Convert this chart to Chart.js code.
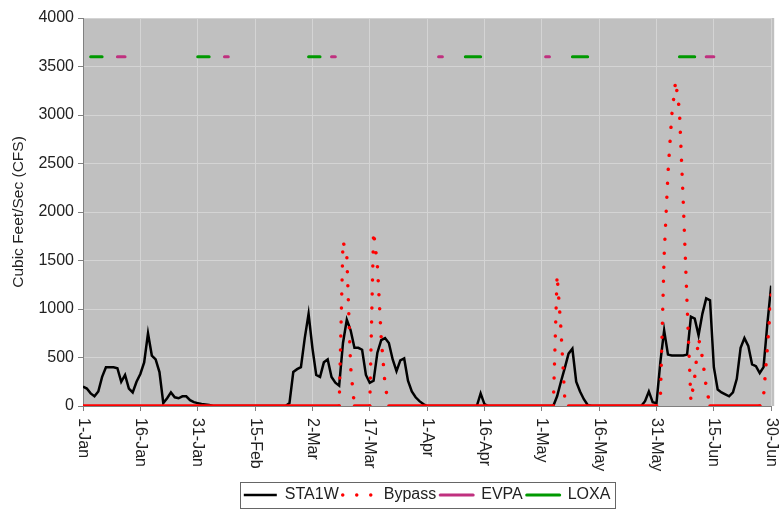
<!DOCTYPE html>
<html>
<head>
<meta charset="utf-8">
<title>STA1W / Bypass flows</title>
<script src="https://cdn.jsdelivr.net/npm/chart.js@4.4.1/dist/chart.umd.min.js"></script>
<style>
  body { margin: 0; background: #fff; }
  canvas { display: block; }
</style>
</head>
<body>
<canvas id="flowChart" width="779" height="510"></canvas>
<script>
// x tick labels, one every 15 days (day 0 = 1-Jan, day 180 = 30-Jun)
const tickLabels = ['1-Jan', '16-Jan', '31-Jan', '15-Feb', '2-Mar', '17-Mar', '1-Apr',
  '16-Apr', '1-May', '16-May', '31-May', '15-Jun', '30-Jun'];

// daily flow (cfs), one row per 15 days
const sta1w = [
  200, 180, 130, 100, 150, 300, 400, 400, 400, 390, 250, 320, 180, 140, 250,
  330, 450, 750, 520, 480, 350, 30, 80, 140, 90, 80, 100, 100, 60, 40,
  30, 20, 15, 10, 0, 0, 0, 0, 0, 0, 0, 0, 0, 0, 0,
  0, 0, 0, 0, 0, 0, 0, 0, 0, 30, 350, 380, 400, 700, 950,
  600, 320, 300, 450, 480, 300, 240, 210, 650, 890, 780, 600, 600, 580, 320,
  240, 260, 550, 680, 700, 650, 480, 360, 470, 490, 260, 150, 90, 50, 20,
  0, 0, 0, 0, 0, 0, 0, 0, 0, 0, 0, 0, 0, 0, 130,
  20, 0, 0, 0, 0, 0, 0, 0, 0, 0, 0, 0, 0, 0, 0,
  0, 0, 0, 0, 100, 250, 390, 540, 590, 250, 150, 70, 10, 0, 0,
  0, 0, 0, 0, 0, 0, 0, 0, 0, 0, 0, 0, 50, 150, 40,
  30, 450, 780, 530, 520, 520, 520, 520, 530, 920, 900, 730, 950, 1110, 1090,
  400, 170, 140, 120, 100, 140, 280, 600, 700, 620, 430, 410, 340, 400, 850,
  1240
];

const bypass = [
  0, 0, 0, 0, 0, 0, 0, 0, 0, 0, 0, 0, 0, 0, 0,
  0, 0, 0, 0, 0, 0, 0, 0, 0, 0, 0, 0, 0, 0, 0,
  0, 0, 0, 0, 0, 0, 0, 0, 0, 0, 0, 0, 0, 0, 0,
  0, 0, 0, 0, 0, 0, 0, 0, 0, 0, 0, 0, 0, 0, 0,
  0, 0, 0, 0, 0, 0, 0, 0, 1700, 1550, 400, 0, 0, 0, 0,
  0, 1800, 1450, 700, 220, 0, 0, 0, 0, 0, 0, 0, 0, 0, 0,
  0, 0, 0, 0, 0, 0, 0, 0, 0, 0, 0, 0, 0, 0, 0,
  0, 0, 0, 0, 0, 0, 0, 0, 0, 0, 0, 0, 0, 0, 0,
  0, 0, 0, 0, 1350, 800, 80, 0, 0, 0, 0, 0, 0, 0, 0,
  0, 0, 0, 0, 0, 0, 0, 0, 0, 0, 0, 0, 0, 0, 0,
  0, 50, 1550, 2400, 3000, 3350, 3050, 2100, 1050, 50, 300, 700, 500, 200, 0,
  0, 0, 0, 0, 0, 0, 0, 0, 0, 0, 0, 0, 0, 100, 600,
  1150
];

// days (first, last) when the EVPA / LOXA markers are on
const evpaDays = [[9, 11], [37, 38], [65, 66], [93, 94], [121, 122], [163, 165]];
const loxaDays = [[2, 5], [30, 33], [59, 62], [100, 104], [128, 132], [156, 160]];
const markerLevel = 3600;

const FONT = '"Liberation Sans", Arial, sans-serif';
Chart.defaults.font.family = FONT;

const toPoints = arr => arr.map((v, i) => ({ x: i, y: v }));

function markerPoints(ranges) {
  const pts = [];
  ranges.forEach(([a, b]) => {
    for (let d = a; d <= b; d++) pts.push({ x: d, y: markerLevel });
    pts.push({ x: b + 0.5, y: null });
  });
  return pts;
}

// grey plot area
const plotBackground = {
  id: 'plotBackground',
  beforeDraw(chart) {
    const { ctx, chartArea: a } = chart;
    ctx.save();
    ctx.fillStyle = '#fff';
    ctx.fillRect(0, 0, chart.width, chart.height);
    ctx.fillStyle = '#c0c0c0';
    ctx.fillRect(a.left, a.top, a.right - a.left + 3, a.bottom - a.top);
    ctx.restore();
  }
};

// x labels read top to bottom, like the original
const xTickText = {
  id: 'xTickText',
  afterDraw(chart) {
    const { ctx } = chart;
    const x = chart.scales.x;
    ctx.save();
    ctx.font = '16px ' + FONT;
    ctx.fillStyle = '#222';
    ctx.textAlign = 'left';
    ctx.textBaseline = 'middle';
    x.ticks.forEach(t => {
      const label = tickLabels[Math.round(t.value / 15)];
      if (!label) return;
      ctx.save();
      ctx.translate(x.getPixelForValue(t.value), x.top + 12);
      ctx.rotate(Math.PI / 2);
      ctx.fillText(label, 0, 0);
      ctx.restore();
    });
    ctx.restore();
  }
};

// thin frame round the legend
const legendFrame = {
  id: 'legendFrame',
  afterDraw(chart) {
    const boxes = chart.legend && chart.legend.legendHitBoxes;
    if (!boxes || !boxes.length) return;
    const l = Math.min(...boxes.map(b => b.left)) - 4;
    const r = Math.max(...boxes.map(b => b.left + b.width)) + 4;
    const t = boxes[0].top - 5;
    const h = boxes[0].height + 10;
    const ctx = chart.ctx;
    ctx.save();
    ctx.strokeStyle = '#666';
    ctx.lineWidth = 1;
    ctx.strokeRect(Math.round(l) + 0.5, Math.round(t) + 0.5, Math.round(r - l), Math.round(h));
    ctx.restore();
  }
};

// legend samples follow the dataset line style (dash, width, cap)
function legendLabels(chart) {
  const items = Chart.defaults.plugins.legend.labels.generateLabels(chart);
  items.forEach(item => {
    const ds = chart.data.datasets[item.datasetIndex];
    item.lineDash = ds.borderDash || [];
    item.lineCap = ds.borderCapStyle || 'butt';
    item.lineWidth = ds.borderWidth;
    item.strokeStyle = ds.borderColor;
  });
  return items;
}

new Chart(document.getElementById('flowChart'), {
  type: 'line',
  data: {
    datasets: [
      {
        label: 'STA1W',
        data: toPoints(sta1w),
        borderColor: '#000',
        borderWidth: 2.5,
        pointRadius: 0,
        tension: 0,
        order: 2
      },
      {
        label: 'Bypass',
        data: toPoints(bypass),
        borderColor: '#ff0000',
        borderWidth: 3.5,
        borderDash: [0.01, 14],
        borderCapStyle: 'round',
        pointRadius: 0,
        tension: 0,
        order: 1,
        segment: {
          borderDash: c => (c.p0.parsed.y === 0 && c.p1.parsed.y === 0) ? [] : undefined
        }
      },
      {
        label: 'EVPA',
        data: markerPoints(evpaDays),
        borderColor: '#c0307f',
        borderWidth: 3,
        borderCapStyle: 'round',
        pointRadius: 0,
        spanGaps: false,
        order: 0
      },
      {
        label: 'LOXA',
        data: markerPoints(loxaDays),
        borderColor: '#009900',
        borderWidth: 3,
        borderCapStyle: 'round',
        pointRadius: 0,
        spanGaps: false,
        order: 0
      }
    ]
  },
  options: {
    responsive: false,
    animation: false,
    layout: { padding: { top: 18, right: 6, bottom: -3, left: 0 } },
    plugins: {
      tooltip: { enabled: false },
      legend: {
        position: 'bottom',
        fullSize: false,
        labels: {
          usePointStyle: true,
          pointStyle: 'line',
          pointStyleWidth: 33,
          padding: 4,
          color: '#222',
          font: { size: 16 },
          generateLabels: legendLabels,
          sort: (a, b) => a.datasetIndex - b.datasetIndex
        }
      }
    },
    scales: {
      x: {
        type: 'linear',
        min: 0,
        max: 180,
        ticks: {
          stepSize: 15,
          autoSkip: false,
          minRotation: 90,
          maxRotation: 90,
          font: { size: 4 },
          color: 'rgba(0,0,0,0)',
          callback: v => tickLabels[v / 15]
        },
        grid: { color: '#d4d4d4', tickColor: '#808080', tickLength: 5 },
        border: { color: '#808080' },
        afterFit: s => { s.height = 77; }
      },
      y: {
        min: 0,
        max: 4000,
        ticks: {
          stepSize: 500,
          color: '#222',
          font: { size: 16 },
          padding: 4,
          callback: v => String(v)
        },
        grid: { color: '#d4d4d4', tickColor: '#808080', tickLength: 5 },
        border: { color: '#808080' },
        title: {
          display: true,
          text: 'Cubic Feet/Sec (CFS)',
          color: '#222',
          font: { size: 15.5 },
          padding: { top: 9, bottom: 0 }
        },
        afterFit: s => { s.width = 83; }
      }
    }
  },
  plugins: [plotBackground, xTickText, legendFrame]
});
</script>
</body>
</html>
